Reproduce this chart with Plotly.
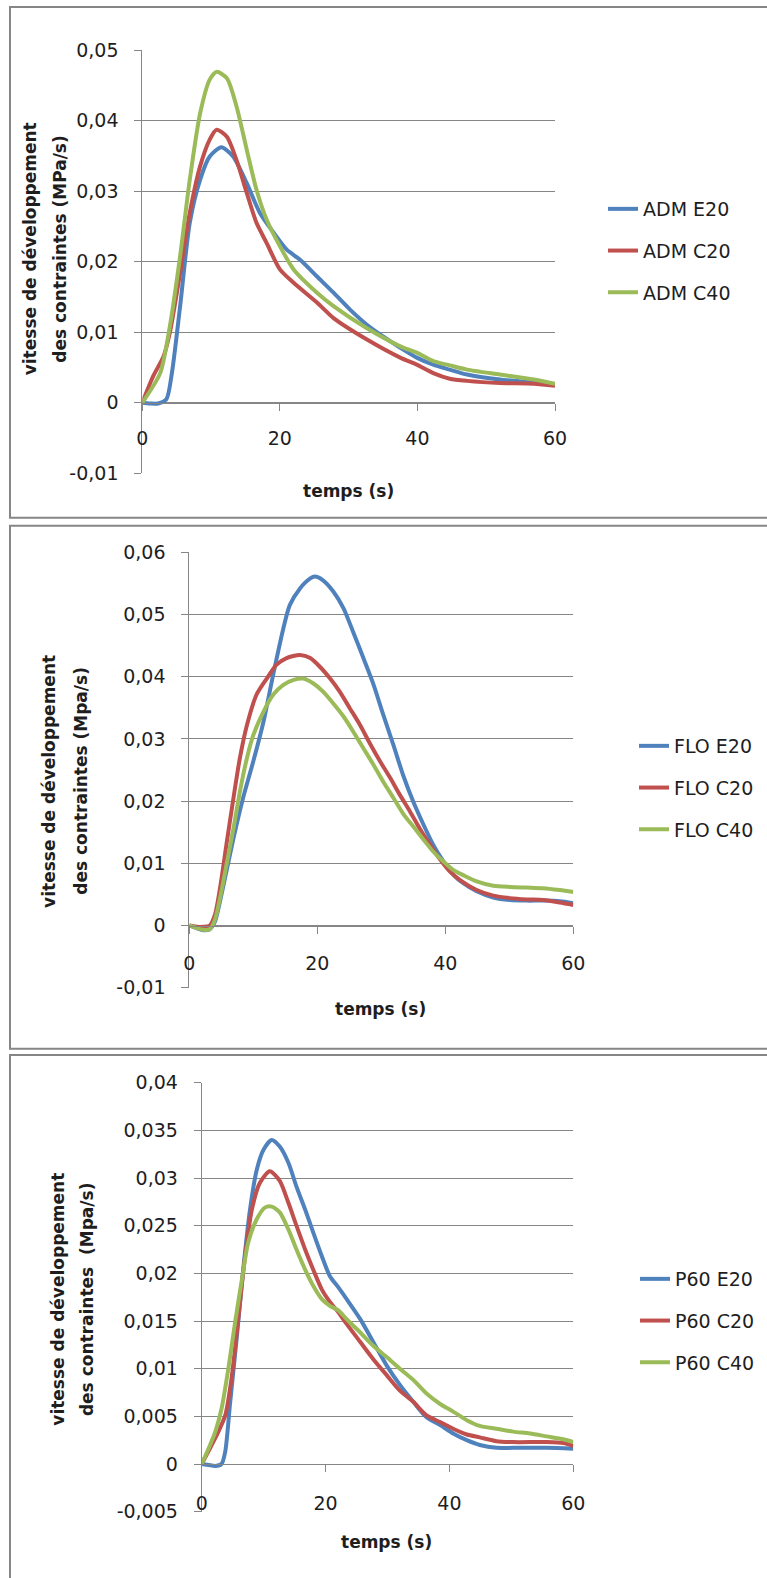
import plotly.graph_objects as go

W, H = 767, 1578

# ---------------- data ----------------
# Chart 1 : ADM
adm_e20_t = [0, 1.1, 2.3, 3.5, 4.3, 5.5, 6.9, 8.4, 9.8, 11.5, 13.2, 15.2, 17.1, 19.1, 21.0, 22.9,
             25.4, 27.8, 30.2, 32.6, 35.0, 37.5, 39.9, 42.3, 44.7, 47.2, 52.0, 56.9, 60]
adm_e20_v = [0, -0.0001, -0.0001, 0.0005, 0.0042, 0.0137, 0.0255, 0.0316, 0.0349, 0.0362, 0.0349,
             0.0311, 0.0269, 0.0241, 0.0217, 0.0203, 0.0179, 0.0156, 0.0132, 0.0111, 0.0094, 0.0078,
             0.0064, 0.0054, 0.0047, 0.0040, 0.0033, 0.0029, 0.0026]
adm_c20_t = [0, 1.6, 3.1, 4.0, 5.5, 6.9, 8.4, 9.8, 10.8, 12.3, 13.7, 15.2, 16.6, 18.1, 20.0, 22.0,
             25.4, 27.8, 32.6, 37.5, 39.9, 42.3, 44.7, 47.2, 52.0, 56.9, 60]
adm_c20_v = [0, 0.0038, 0.0066, 0.0099, 0.0184, 0.0269, 0.0335, 0.0373, 0.0387, 0.0377, 0.0344,
             0.0297, 0.0255, 0.0226, 0.0189, 0.0170, 0.0142, 0.0120, 0.0090, 0.0064, 0.0054, 0.0042,
             0.0034, 0.0031, 0.0028, 0.0027, 0.0024]
adm_c40_t = [0, 2.6, 4.0, 5.5, 6.9, 8.4, 9.8, 10.8, 12.3, 13.7, 15.2, 16.6, 18.1, 20.0, 22.0, 25.4,
             27.8, 32.6, 37.5, 39.9, 42.3, 44.7, 47.2, 52.0, 56.9, 60]
adm_c40_v = [0, 0.0042, 0.0108, 0.0208, 0.0316, 0.0410, 0.0458, 0.0469, 0.0460, 0.0420, 0.0358,
             0.0302, 0.0259, 0.0222, 0.0189, 0.0156, 0.0137, 0.0106, 0.0080, 0.0071, 0.0059, 0.0053,
             0.0047, 0.0040, 0.0033, 0.0027]

# Chart 2 : FLO
flo_e20_t = [0, 1.1, 2.2, 3.2, 4.0, 4.8, 5.8, 6.9, 8.4, 10.0, 11.6, 13.1, 14.7, 15.7, 17.3, 18.9,
             19.6, 20.9, 22.5, 24.1, 25.6, 27.2, 28.8, 30.3, 31.9, 33.4, 35.0, 36.6, 38.1, 39.7,
             41.3, 42.8, 44.9, 47.5, 50.1, 52.7, 55.3, 57.9, 60]
flo_e20_v = [0, -0.0004, -0.00075, -0.0006, 0.0006, 0.0039, 0.0087, 0.0140, 0.0205, 0.0264, 0.0328,
             0.0403, 0.0478, 0.0515, 0.0542, 0.0558, 0.0561, 0.0555, 0.0537, 0.0510, 0.0472, 0.0430,
             0.0387, 0.0339, 0.0290, 0.0242, 0.0199, 0.0162, 0.0130, 0.0103, 0.0081, 0.0068, 0.0055,
             0.0045, 0.0041, 0.0040, 0.0040, 0.0039, 0.0036]
flo_c20_t = [0, 1.1, 2.2, 3.2, 4.0, 4.8, 5.8, 6.9, 7.9, 9.0, 10.5, 12.1, 13.6, 15.2, 17.3, 18.9,
             20.4, 22.0, 23.5, 25.1, 26.7, 28.2, 29.8, 31.4, 32.9, 34.5, 36.0, 37.6, 39.2, 40.7,
             42.3, 44.9, 47.5, 50.1, 52.7, 55.3, 57.9, 60]
flo_c20_v = [0, -0.0002, -0.0002, 0, 0.0017, 0.0060, 0.0130, 0.0205, 0.0269, 0.0322, 0.0371,
             0.0397, 0.0419, 0.0430, 0.0435, 0.0430, 0.0416, 0.0397, 0.0376, 0.0349, 0.0322, 0.0293,
             0.0264, 0.0237, 0.0210, 0.0183, 0.0156, 0.0130, 0.0106, 0.0087, 0.0073, 0.0057, 0.0048,
             0.0044, 0.0042, 0.0041, 0.0037, 0.0033]
flo_c40_t = [0, 1.1, 2.2, 3.2, 4.0, 4.8, 5.8, 6.9, 7.9, 9.0, 10.0, 11.6, 13.1, 14.7, 16.3, 17.8,
             19.4, 20.9, 22.5, 24.1, 25.6, 27.2, 28.8, 30.3, 31.9, 33.4, 35.0, 36.6, 38.1, 39.7,
             41.3, 42.8, 44.9, 47.5, 50.1, 52.7, 55.3, 57.9, 60]
flo_c40_v = [0, -0.0004, -0.0007, -0.0006, 0.0009, 0.0044, 0.0097, 0.0156, 0.0215, 0.0269, 0.0306,
             0.0344, 0.0371, 0.0387, 0.0395, 0.0397, 0.0389, 0.0376, 0.0357, 0.0336, 0.0312, 0.0285,
             0.0258, 0.0231, 0.0205, 0.0180, 0.0159, 0.0138, 0.0119, 0.0103, 0.0089, 0.0081, 0.0071,
             0.0064, 0.0062, 0.0061, 0.0060, 0.0057, 0.0054]

# Chart 3 : P60
p60_e20_t = [0, 1.1, 2.2, 3.2, 3.8, 4.6, 5.7, 6.7, 7.8, 8.9, 10.0, 11.3, 12.6, 14.0, 15.3, 16.7,
             18.0, 19.4, 20.7, 22.1, 23.4, 25.6, 27.7, 29.9, 32.0, 34.2, 36.3, 38.5, 40.6, 42.8,
             44.9, 47.6, 50.3, 55.7, 60]
p60_e20_v = [0, -0.0001, -0.0002, 0, 0.0013, 0.0065, 0.0135, 0.0204, 0.0267, 0.0309, 0.0330,
             0.0340, 0.0333, 0.0316, 0.0291, 0.0267, 0.0243, 0.0218, 0.0197, 0.0185, 0.0173, 0.0152,
             0.0128, 0.0103, 0.0083, 0.0065, 0.0049, 0.0041, 0.0032, 0.0025, 0.0020, 0.0017, 0.0017,
             0.0017, 0.0016]
p60_c20_t = [0, 1.3, 2.7, 3.8, 4.8, 5.9, 7.0, 8.1, 9.4, 11.0, 12.6, 14.0, 15.3, 16.7, 18.0, 19.4,
             20.7, 22.1, 23.4, 25.6, 27.7, 29.9, 32.0, 34.2, 36.3, 38.5, 40.6, 42.8, 44.9, 47.6,
             50.3, 55.7, 58.4, 60]
p60_c20_v = [0, 0.0016, 0.0034, 0.0051, 0.0089, 0.0152, 0.0218, 0.0267, 0.0295, 0.0307, 0.0297,
             0.0274, 0.0250, 0.0225, 0.0204, 0.0183, 0.0170, 0.0159, 0.0147, 0.0128, 0.0110, 0.0093,
             0.0077, 0.0065, 0.0051, 0.0044, 0.0037, 0.0031, 0.0028, 0.0024, 0.0023, 0.0023, 0.0022,
             0.0019]
p60_c40_t = [0, 1.1, 2.2, 3.2, 4.3, 5.4, 6.5, 7.5, 8.9, 10.2, 11.3, 12.6, 14.0, 15.3, 16.7, 18.0,
             19.4, 20.7, 22.1, 23.4, 25.6, 27.7, 29.9, 32.0, 34.2, 36.3, 38.5, 40.6, 42.8, 44.9,
             47.6, 50.3, 53.0, 55.7, 58.4, 60]
p60_c40_v = [0, 0.0016, 0.0034, 0.0058, 0.0100, 0.0149, 0.0194, 0.0232, 0.0257, 0.0269, 0.0270,
             0.0264, 0.0246, 0.0225, 0.0204, 0.0187, 0.0173, 0.0166, 0.0161, 0.0152, 0.0138, 0.0124,
             0.0112, 0.0100, 0.0088, 0.0074, 0.0063, 0.0055, 0.0046, 0.0040, 0.0037, 0.0034, 0.0032,
             0.0029, 0.0026, 0.0023]

x_ticks = [0, 20, 40, 60]
x_ticktext = ["0", "20", "40", "60"]
y_ticks1 = [-0.01, 0, 0.01, 0.02, 0.03, 0.04, 0.05]
y_ticktext1 = ["-0,01", "0", "0,01", "0,02", "0,03", "0,04", "0,05"]
y_ticks2 = [-0.01, 0, 0.01, 0.02, 0.03, 0.04, 0.05, 0.06]
y_ticktext2 = ["-0,01", "0", "0,01", "0,02", "0,03", "0,04", "0,05", "0,06"]
y_ticks3 = [-0.005, 0, 0.005, 0.01, 0.015, 0.02, 0.025, 0.03, 0.035, 0.04]
y_ticktext3 = ["-0,005", "0", "0,005", "0,01", "0,015", "0,02", "0,025", "0,03", "0,035", "0,04"]

names1 = ["ADM E20", "ADM C20", "ADM C40"]
names2 = ["FLO E20", "FLO C20", "FLO C40"]
names3 = ["P60 E20", "P60 C20", "P60 C40"]
ytitle1 = ["vitesse de développement", "des contraintes (MPa/s)"]
ytitle2 = ["vitesse de développement", "des contraintes (Mpa/s)"]
ytitle3 = ["vitesse de développement", "des contraintes  (Mpa/s)"]
xtitle = "temps (s)"

# ---------------- style ----------------
COLORS = ["#4F81BD", "#C0504D", "#9BBB59"]
GRID = "#868686"
FONT = "DejaVu Sans"
TXT = "#1e1e1e"


def px(x):
    return x / W


def py(y):
    return 1 - y / H


# layout geometry of each panel (pixels)
panels = [
    dict(x0=142.3, x1=555.0, ytop=50.0, ybot=473.3, yr=[-0.01, 0.05], yt=y_ticks1, ytt=y_ticktext1,
         names=names1, series=[(adm_e20_t, adm_e20_v), (adm_c20_t, adm_c20_v), (adm_c40_t, adm_c40_v)],
         ytitle=ytitle1, yt_x=[30.3, 59.7], yt_y=249, xt=(348.3, 490.5), leg=(603, 190),
         box=(10, 7, 517.7), xstand=11),
    dict(x0=189.3, x1=573.3, ytop=552.3, ybot=987.7, yr=[-0.01, 0.06], yt=y_ticks2, ytt=y_ticktext2,
         names=names2, series=[(flo_e20_t, flo_e20_v), (flo_c20_t, flo_c20_v), (flo_c40_t, flo_c40_v)],
         ytitle=ytitle2, yt_x=[48.9, 80.7], yt_y=781, xt=(380.6, 1008.6), leg=(634, 727),
         box=(10, 525.7, 1048.7), xstand=14),
    dict(x0=201.7, x1=573.3, ytop=1082.7, ybot=1511.7, yr=[-0.005, 0.04], yt=y_ticks3, ytt=y_ticktext3,
         names=names3, series=[(p60_e20_t, p60_e20_v), (p60_c20_t, p60_c20_v), (p60_c40_t, p60_c40_v)],
         ytitle=ytitle3, yt_x=[57.7, 87.1], yt_y=1299, xt=(386.5, 1541.7), leg=(635, 1260),
         box=(10, 1055, 1600), xstand=15),
]

fig = go.Figure()
layout = dict(
    width=W, height=H, autosize=False,
    margin=dict(l=0, r=0, t=0, b=0, pad=0, autoexpand=False),
    paper_bgcolor="white", plot_bgcolor="white",
    font=dict(family=FONT, size=19, color=TXT),
    showlegend=True,
    annotations=[], shapes=[],
)

for i, p in enumerate(panels):
    k = "" if i == 0 else str(i + 1)
    xa, ya = "x" + k, "y" + k
    leg = "legend" + k
    for j, (tt, vv) in enumerate(p["series"]):
        fig.add_trace(go.Scatter(
            x=tt, y=vv, mode="lines", name=p["names"][j],
            line=dict(color=COLORS[j], width=4, shape="spline", smoothing=0.7),
            xaxis=xa, yaxis=ya, legend=leg, legendgroup=p["names"][j],
        ))
    ydom = [py(p["ybot"]), py(p["ytop"])]
    ymin, ymax = p["yr"]
    zero_pos = ydom[0] + (0 - ymin) / (ymax - ymin) * (ydom[1] - ydom[0])
    layout["xaxis" + k] = dict(
        domain=[px(p["x0"]), px(p["x1"])], range=[0, 60], anchor="free", position=zero_pos,
        tickvals=x_ticks, ticktext=x_ticktext, showgrid=False, zeroline=False,
        showline=True, linecolor=GRID, linewidth=1, ticks="outside", ticklen=7,
        tickcolor=GRID, tickwidth=1, ticklabelstandoff=p["xstand"],
        tickfont=dict(family=FONT, size=19, color=TXT), fixedrange=True, automargin=False,
    )
    layout["yaxis" + k] = dict(
        domain=ydom, range=p["yr"], anchor=xa, tickvals=p["yt"], ticktext=p["ytt"],
        showgrid=True, gridcolor=GRID, gridwidth=1, zeroline=False,
        showline=True, linecolor=GRID, linewidth=1, ticks="outside", ticklen=7,
        tickcolor=GRID, tickwidth=1, ticklabelstandoff=12,
        tickfont=dict(family=FONT, size=19, color=TXT), fixedrange=True, automargin=False,
    )
    layout[leg] = dict(
        x=px(p["leg"][0]), y=py(p["leg"][1]), xanchor="left", yanchor="top",
        bgcolor="rgba(0,0,0,0)", borderwidth=0, tracegroupgap=14,
        font=dict(family=FONT, size=19, color=TXT), itemclick=False, itemdoubleclick=False,
    )
    for line_txt, lx in zip(p["ytitle"], p["yt_x"]):
        layout["annotations"].append(dict(
            text="<b>" + line_txt + "</b>", xref="paper", yref="paper",
            x=px(lx), y=py(p["yt_y"]), xanchor="center", yanchor="middle",
            textangle=-90, showarrow=False, font=dict(family=FONT, size=17, color=TXT),
        ))
    layout["annotations"].append(dict(
        text="<b>" + xtitle + "</b>", xref="paper", yref="paper",
        x=px(p["xt"][0]), y=py(p["xt"][1]), xanchor="center", yanchor="middle",
        showarrow=False, font=dict(family=FONT, size=17, color=TXT),
    ))
    bx, by0, by1 = p["box"]
    layout["shapes"].append(dict(
        type="rect", xref="paper", yref="paper", x0=px(bx), x1=px(790),
        y0=py(by1), y1=py(by0), line=dict(color=GRID, width=2), fillcolor="rgba(0,0,0,0)",
        layer="below",
    ))

fig.update_layout(**layout)
fig.write_html("out.html", include_plotlyjs=True, full_html=True,
               config={"displayModeBar": False, "staticPlot": True},
               post_script="document.body.style.margin='0';document.body.style.overflow='hidden';")
